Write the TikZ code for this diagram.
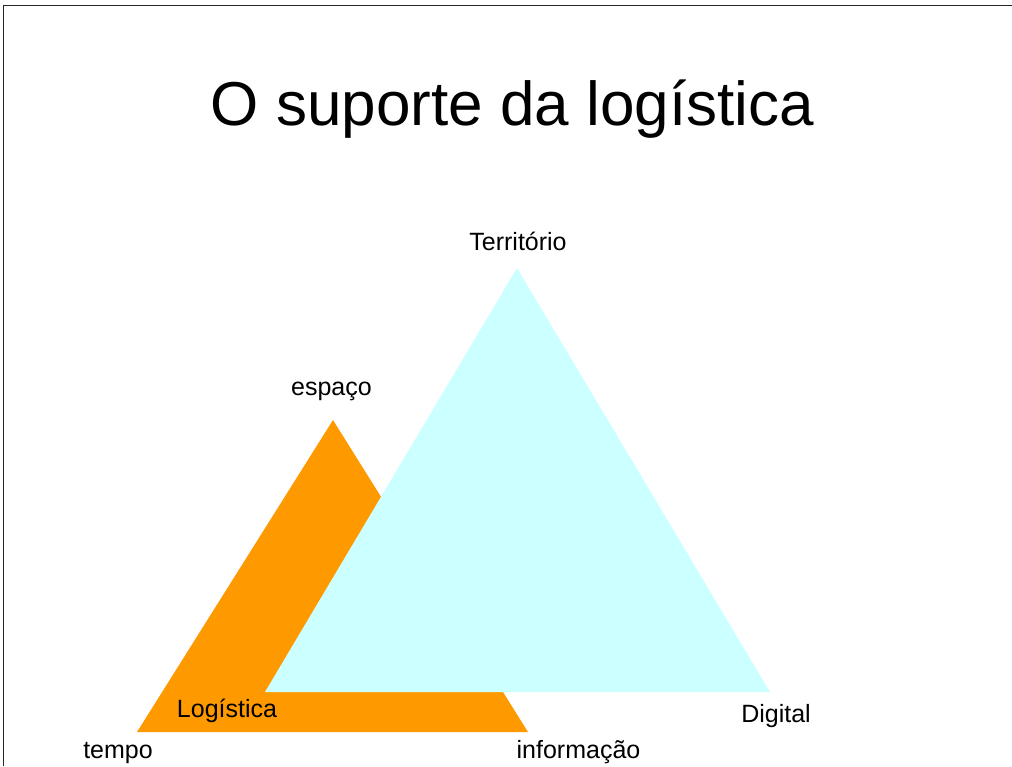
\documentclass[tikz,border=0pt]{standalone}
\usepackage{fontspec}
\setmainfont{Liberation Sans}
\definecolor{logorange}{HTML}{FF9900}
\definecolor{terrcyan}{HTML}{CCFFFF}
\begin{document}
\begin{tikzpicture}[x=1pt,y=-1pt,
  lbl/.style={anchor=base, inner sep=0pt, font=\fontsize{25}{30}\selectfont},
  ttl/.style={anchor=base, inner sep=0pt, font=\fontsize{62}{70}\selectfont},
  frameline/.style={draw=black!85, line width=1.5pt}]
\useasboundingbox (0,0) rectangle (1012,766);
\fill[white] (0,0) rectangle (1012,766);
\draw[frameline] (3.5,766) -- (3.5,5.5) -- (1012,5.5);
% title
\node[ttl] (title) at (512.5,125) {O suporte da logística};
% orange triangle (Logistica)
\coordinate (oA) at (333,420);
\coordinate (oB) at (137,732);
\coordinate (oC) at (528,732);
\fill[logorange] (oA) -- (oB) -- (oC) -- cycle;
% cyan triangle (Territorio)
\coordinate (cA) at (517,268);
\coordinate (cB) at (265,692);
\coordinate (cC) at (770,692);
\fill[terrcyan] (cA) -- (cB) -- (cC) -- cycle;
% labels
\node[lbl] (territorio) at (518,250) {Território};
\node[lbl] (espaco) at (331.5,395) {espaço};
\node[lbl] (logistica) at (227,717) {Logística};
\node[lbl] (tempo) at (118,758) {tempo};
\node[lbl] (informacao) at (578.5,758) {informação};
\node[lbl] (digital) at (776,722) {Digital};
\end{tikzpicture}
\end{document}
